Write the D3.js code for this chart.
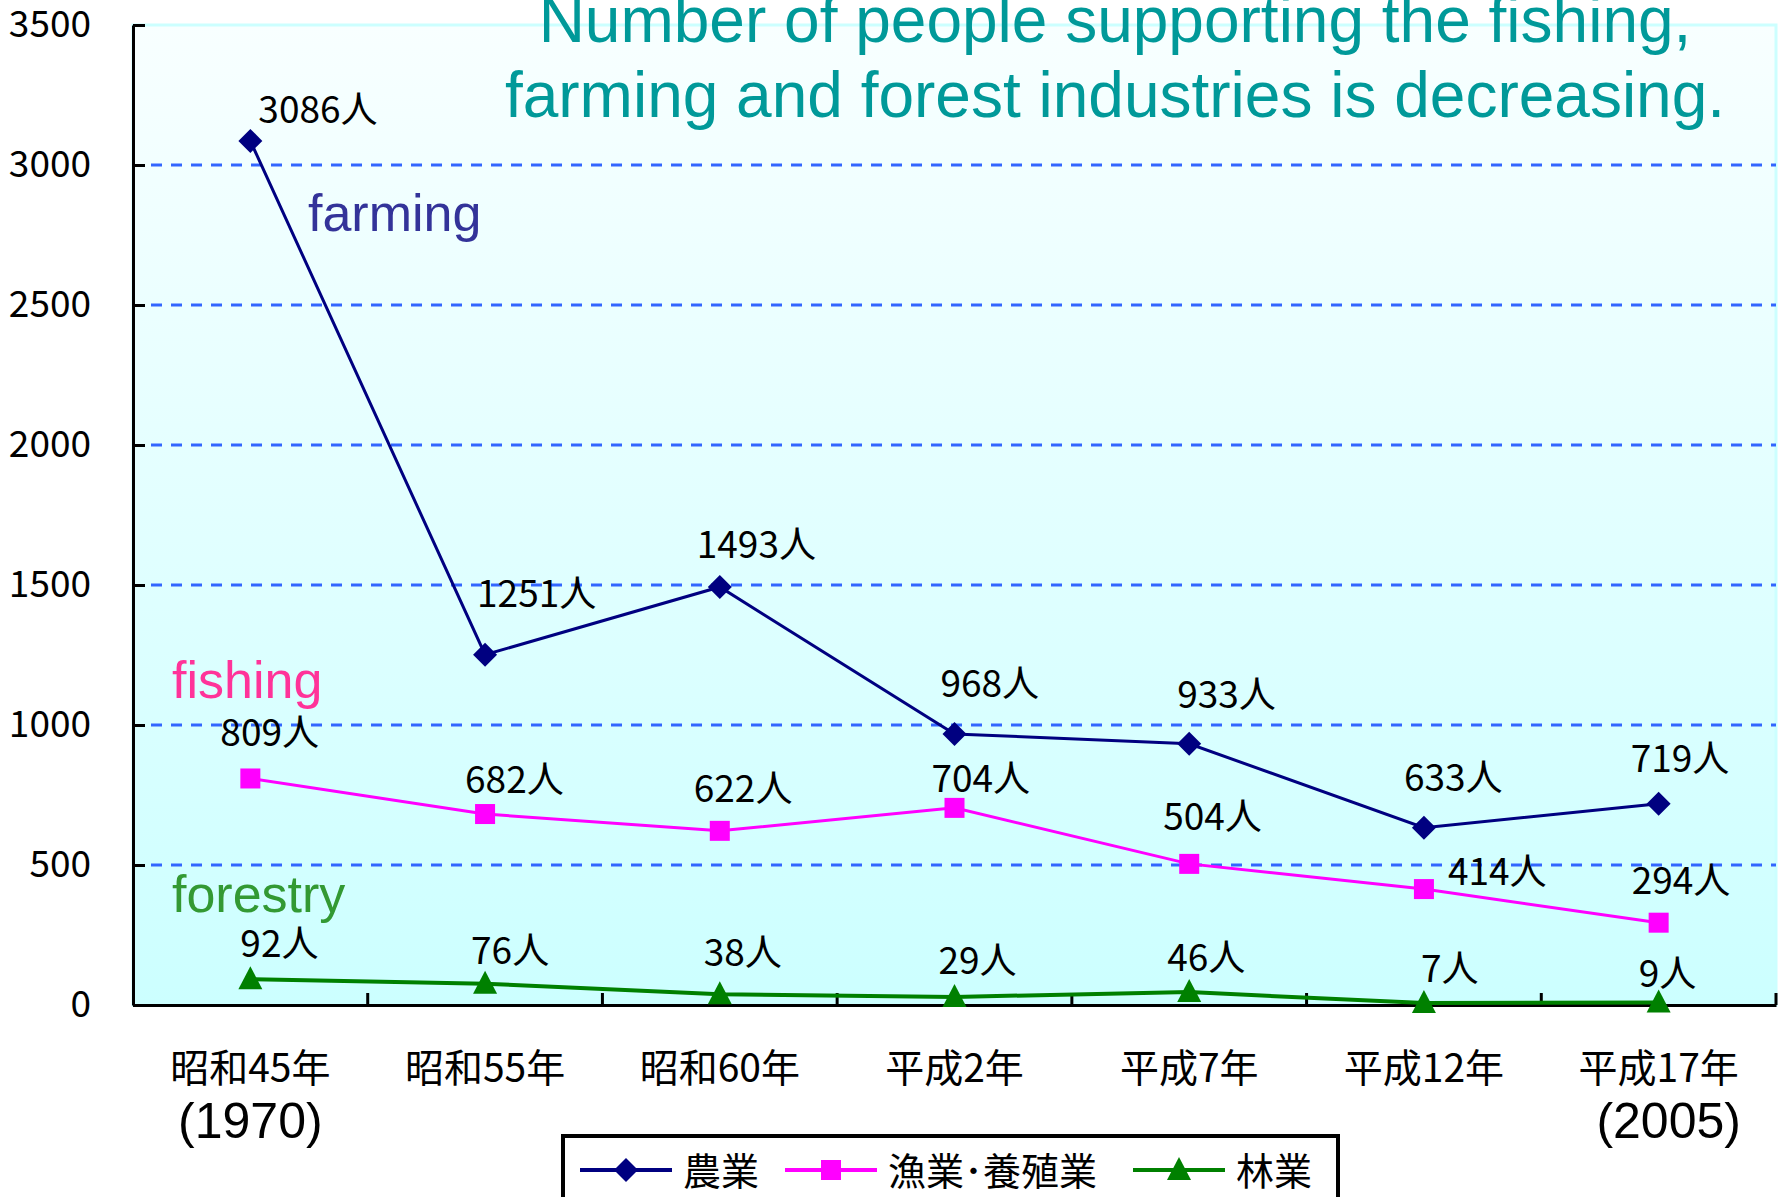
<!DOCTYPE html>
<html>
<head>
<meta charset="utf-8">
<script src="https://cdn.jsdelivr.net/npm/d3@7"></script>
<style>
  body { margin: 0; background: #fff; }
  svg { display: block; }
</style>
</head>
<body>
<div id="chart"></div>
<script>
// ----------- DATA ------------
const categories = ['昭和45年', '昭和55年', '昭和60年', '平成2年', '平成7年', '平成12年', '平成17年'];
const farming = [3086, 1251, 1493, 968, 933, 633, 719];
const fishing = [809, 682, 622, 704, 504, 414, 294];
const forestry = [92, 76, 38, 29, 46, 7, 9];
const yTicks = [0, 500, 1000, 1500, 2000, 2500, 3000, 3500];
const seriesNames = ['農業', '漁業･養殖業', '林業'];
const titleLines = ['Number of people supporting the fishing,', 'farming and forest industries is decreasing.'];

// label offsets (dx to text start, dy to text middle), picked by eye
const labelOffsets = {
  farming: [[8, -34], [-8, -64], [-23, -45], [-14, -53], [-12, -52], [-20, -53], [-28, -48]],
  fishing: [[-30, -48], [-20, -37], [-26, -45], [-23, -32], [-26, -50], [24, -20], [-27, -45]],
  forestry: [[-10, -38], [-14, -36], [-16, -44], [-16, -39], [-22, -37], [-3, -37], [-20, -31]],
};

const W = 1781, H = 1197;
const plot = { left: 133, right: 1776, top: 25, bottom: 1005 };
const jp = '"Noto Sans CJK JP", "Noto Sans", sans-serif';
const arial = '"Liberation Sans", Arial, sans-serif';

const svg = d3.select('#chart').append('svg').attr('width', W).attr('height', H);

// ----------- SCALES ------------
const x = d3.scaleBand().domain(categories).range([plot.left, plot.right]);
const cx = (i) => x(categories[i]) + x.bandwidth() / 2;
const y = d3.scaleLinear().domain([0, 3500]).range([plot.bottom, plot.top]);

// ----------- BACKGROUND ------------
const grad = svg.append('defs').append('linearGradient')
  .attr('id', 'bg').attr('x1', 0).attr('y1', 0).attr('x2', 0).attr('y2', 1);
grad.append('stop').attr('offset', '0%').attr('stop-color', '#f8ffff');
grad.append('stop').attr('offset', '100%').attr('stop-color', '#ccffff');

svg.append('rect')
  .attr('x', plot.left).attr('y', plot.top)
  .attr('width', plot.right - plot.left).attr('height', plot.bottom - plot.top)
  .attr('fill', 'url(#bg)')
  .attr('stroke', '#ccffff').attr('stroke-width', 3);

// ----------- GRID ------------
svg.append('g')
  .selectAll('line')
  .data(yTicks.filter((d) => d > 0 && d < 3500))
  .enter()
  .append('line')
  .attr('x1', plot.left + 18).attr('x2', plot.right)
  .attr('y1', (d) => y(d)).attr('y2', (d) => y(d))
  .attr('stroke', '#3366ff').attr('stroke-width', 3)
  .attr('stroke-dasharray', '11,9');

// ----------- AXES ------------
const yAxis = svg.append('g')
  .attr('transform', `translate(${plot.left},0)`)
  .call(d3.axisLeft(y).tickValues(yTicks).tickFormat(d3.format('d'))
    .tickSizeInner(-12).tickSizeOuter(0).tickPadding(42));
yAxis.select('.domain').attr('stroke', '#000').attr('stroke-width', 3);
yAxis.selectAll('.tick line').attr('stroke', '#000').attr('stroke-width', 3);
yAxis.selectAll('.tick text')
  .attr('font-family', jp).attr('font-size', 37).attr('fill', '#000');

const xAxis = svg.append('g')
  .attr('transform', `translate(0,${plot.bottom})`)
  .call(d3.axisBottom(x).tickSize(0).tickPadding(0));
xAxis.select('.domain').attr('stroke', '#000').attr('stroke-width', 3);
xAxis.selectAll('.tick text')
  .attr('font-family', jp).attr('font-size', 39).attr('fill', '#000')
  .attr('dy', null).attr('y', 60).attr('dominant-baseline', 'central');

// x ticks between categories
svg.append('g')
  .selectAll('line')
  .data(categories)
  .enter()
  .append('line')
  .attr('x1', (d) => x(d) + x.bandwidth()).attr('x2', (d) => x(d) + x.bandwidth())
  .attr('y1', plot.bottom).attr('y2', plot.bottom - 12)
  .attr('stroke', '#000').attr('stroke-width', 3);

// years under first / last category
svg.append('text')
  .attr('x', cx(0)).attr('y', 1138)
  .attr('text-anchor', 'middle').attr('font-family', arial).attr('font-size', 50)
  .text('(1970)');
svg.append('text')
  .attr('x', cx(6) + 10).attr('y', 1138)
  .attr('text-anchor', 'middle').attr('font-family', arial).attr('font-size', 50)
  .text('(2005)');

// ----------- MARKERS ------------
function marker(g, kind, px, py, color) {
  if (kind === 'diamond') {
    g.append('path')
      .attr('d', `M${px},${py - 12}L${px + 12},${py}L${px},${py + 12}L${px - 12},${py}Z`)
      .attr('fill', color);
  } else if (kind === 'square') {
    g.append('rect')
      .attr('x', px - 10).attr('y', py - 10).attr('width', 20).attr('height', 20)
      .attr('fill', color);
  } else {
    g.append('path')
      .attr('d', `M${px},${py - 13}L${px + 12},${py + 10}L${px - 12},${py + 10}Z`)
      .attr('fill', color);
  }
}

// ----------- SERIES ------------
const series = [
  { key: 'farming', values: farming, color: '#000080', width: 3, marker: 'diamond' },
  { key: 'fishing', values: fishing, color: '#ff00ff', width: 3, marker: 'square' },
  { key: 'forestry', values: forestry, color: '#008000', width: 4, marker: 'triangle' },
];

const line = d3.line()
  .x((d, i) => cx(i))
  .y((d) => y(d));

series.forEach((s) => {
  const g = svg.append('g').attr('class', `line ${s.key}`);
  g.append('path')
    .attr('d', line(s.values))
    .attr('fill', 'none')
    .attr('stroke', s.color)
    .attr('stroke-width', s.width);
  s.values.forEach((v, i) => marker(g, s.marker, cx(i), y(v), s.color));

  g.selectAll('text.lbl')
    .data(s.values)
    .enter()
    .append('text')
    .attr('class', 'lbl')
    .attr('x', (d, i) => cx(i) + labelOffsets[s.key][i][0])
    .attr('y', (d, i) => y(d) + labelOffsets[s.key][i][1])
    .attr('dominant-baseline', 'central')
    .attr('font-family', jp).attr('font-size', 37).attr('fill', '#000')
    .text((d) => `${d}人`);
});

// ----------- SERIES NAMES ------------
svg.append('text').attr('x', 308).attr('y', 231)
  .attr('font-family', arial).attr('font-size', 52).attr('fill', '#333399').text('farming');
svg.append('text').attr('x', 172).attr('y', 698)
  .attr('font-family', arial).attr('font-size', 52).attr('fill', '#ff3399').text('fishing');
svg.append('text').attr('x', 172).attr('y', 912)
  .attr('font-family', arial).attr('font-size', 52).attr('fill', '#339933').text('forestry');

// ----------- TITLE ------------
svg.append('g')
  .selectAll('text')
  .data(titleLines)
  .enter()
  .append('text')
  .attr('x', 1115)
  .attr('y', (d, i) => 42 + i * 75)
  .attr('text-anchor', 'middle')
  .attr('font-family', arial).attr('font-size', 64).attr('fill', '#009999')
  .text((d) => d);

// ----------- LEGEND ------------
const legend = svg.append('g');
legend.append('rect')
  .attr('x', 563).attr('y', 1136).attr('width', 775).attr('height', 90)
  .attr('fill', '#fff').attr('stroke', '#000').attr('stroke-width', 4);

const legendX = [580, 785, 1133];
series.forEach((s, i) => {
  const lx = legendX[i];
  const ly = 1170;
  legend.append('line')
    .attr('x1', lx).attr('x2', lx + 92).attr('y1', ly).attr('y2', ly)
    .attr('stroke', s.color).attr('stroke-width', 4);
  marker(legend, s.marker, lx + 46, ly, s.color);
  legend.append('text')
    .attr('x', lx + 103).attr('y', ly - 2)
    .attr('dominant-baseline', 'central')
    .attr('font-family', jp).attr('font-size', 38).attr('fill', '#000')
    .text(seriesNames[i]);
});
</script>
</body>
</html>
